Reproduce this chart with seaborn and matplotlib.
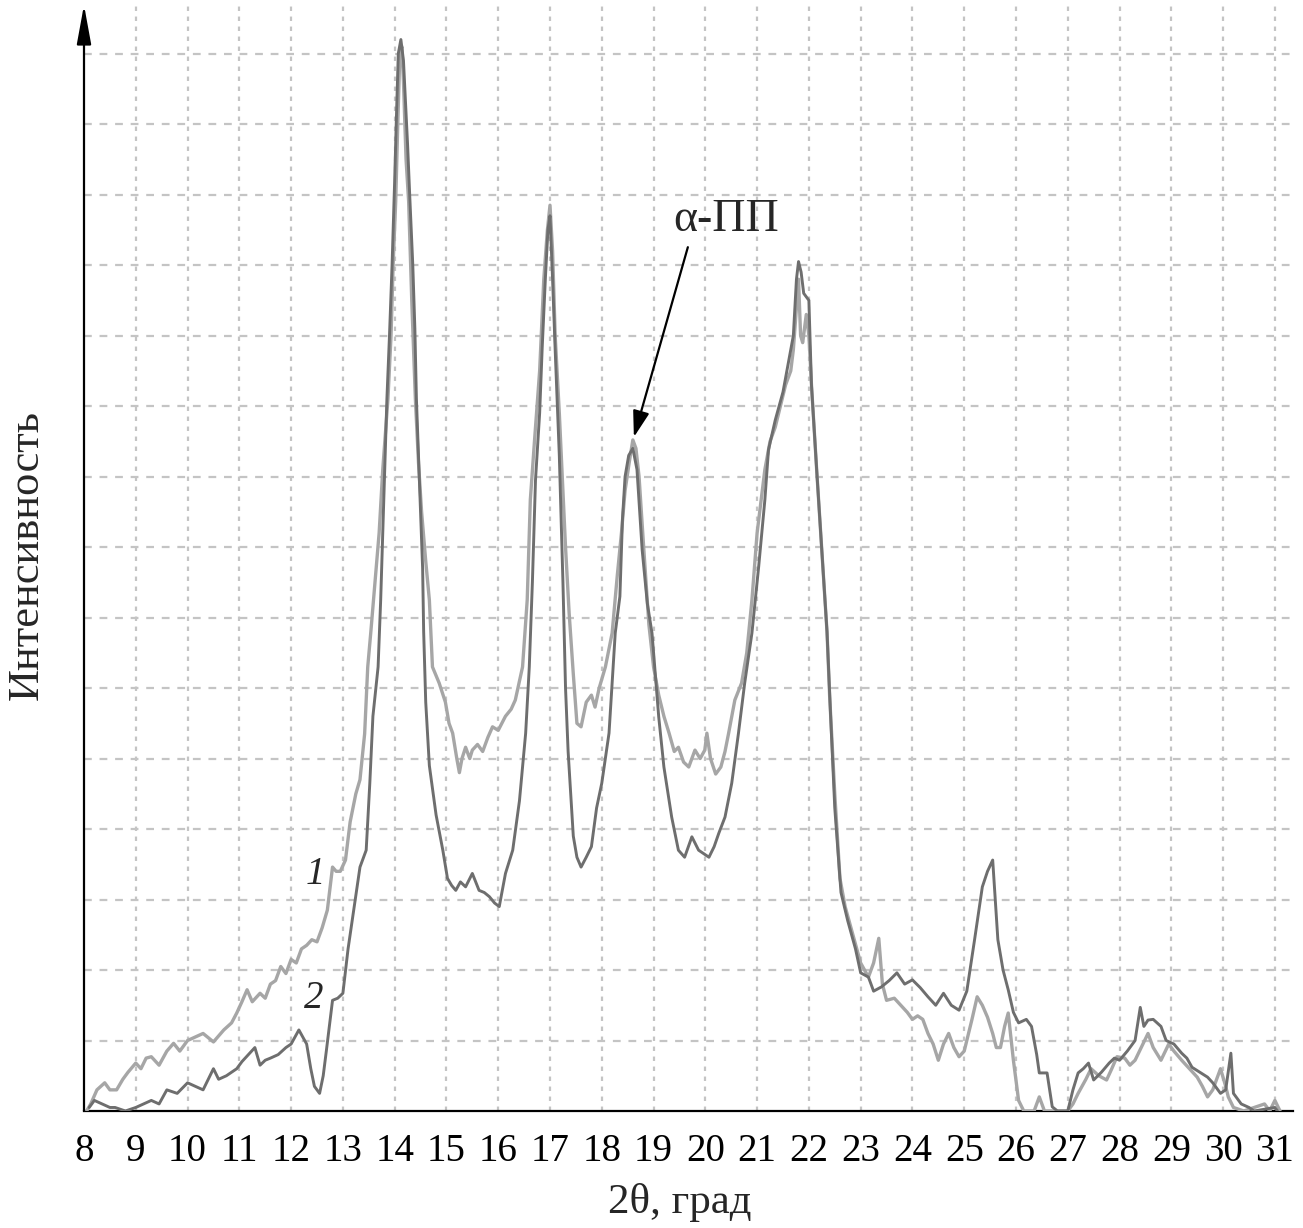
import numpy as np
import pandas as pd
import matplotlib
matplotlib.use("Agg")
import matplotlib.pyplot as plt
import seaborn as sns

# ---- data ----
x1 = [8.05, 8.13, 8.25, 8.4, 8.5, 8.63, 8.75, 8.85, 9.0, 9.1, 9.2, 9.3, 9.45, 9.6, 9.73, 9.85,
      10.0, 10.15, 10.3, 10.5, 10.7, 10.85, 10.95, 11.05, 11.15, 11.25, 11.4, 11.5, 11.6, 11.7,
      11.8, 11.9, 12.0, 12.1, 12.2, 12.3, 12.4, 12.5, 12.6, 12.7, 12.8, 12.87, 12.95, 13.05,
      13.14, 13.25, 13.33, 13.42, 13.48, 13.54, 13.62, 13.7, 13.77, 13.87, 13.93, 13.97, 14.02,
      14.06, 14.1, 14.14, 14.17, 14.22, 14.27, 14.33, 14.4, 14.46, 14.52, 14.6, 14.67, 14.73,
      14.86, 14.98, 15.05, 15.12, 15.2, 15.25, 15.3, 15.37, 15.45, 15.5, 15.6, 15.7, 15.8, 15.89,
      16.0, 16.14, 16.25, 16.33, 16.47, 16.56, 16.62, 16.7, 16.8, 16.88, 16.95, 17.0, 17.05,
      17.1, 17.18, 17.24, 17.3, 17.37, 17.45, 17.52, 17.6, 17.7, 17.8, 17.87, 17.95, 18.07,
      18.2, 18.3, 18.38, 18.45, 18.53, 18.6, 18.66, 18.72, 18.8, 18.91, 19.0, 19.1, 19.2, 19.3,
      19.4, 19.48, 19.58, 19.68, 19.8, 19.9, 19.99, 20.03, 20.1, 20.2, 20.3, 20.38, 20.45,
      20.57, 20.7, 20.8, 20.9, 21.0, 21.15, 21.25, 21.35, 21.45, 21.55, 21.65, 21.7, 21.75,
      21.8, 21.84, 21.88, 21.95, 22.0, 22.05, 22.15, 22.25, 22.35, 22.4, 22.5, 22.6, 22.7,
      22.85, 23.0, 23.15, 23.25, 23.35, 23.42, 23.5, 23.65, 23.8, 23.9, 24.0, 24.1, 24.2, 24.3,
      24.4, 24.5, 24.6, 24.7, 24.8, 24.9, 25.0, 25.05, 25.15, 25.25, 25.35, 25.45, 25.55,
      25.62, 25.7, 25.78, 25.85, 25.95, 26.05, 26.15, 26.35, 26.45, 26.55, 27.0, 27.1, 27.2,
      27.35, 27.45, 27.6, 27.75, 27.85, 27.95, 28.1, 28.2, 28.3, 28.45, 28.55, 28.65, 28.8,
      28.95, 29.05, 29.2, 29.35, 29.5, 29.6, 29.7, 29.8, 29.95, 30.05, 30.1, 30.2, 30.4, 30.8,
      30.9, 31.0, 31.1]
y1 = [0.0, 0.1, 0.3, 0.4, 0.3, 0.3, 0.45, 0.55, 0.68, 0.6, 0.75, 0.77, 0.65, 0.85, 0.96, 0.85,
      1.0, 1.05, 1.1, 0.98, 1.15, 1.25, 1.39, 1.55, 1.72, 1.55, 1.67, 1.6, 1.8, 1.85,
      2.05, 1.95, 2.15, 2.1, 2.3, 2.35, 2.43, 2.4, 2.6, 2.85, 3.46, 3.4, 3.4, 3.56,
      4.1, 4.5, 4.7, 5.35, 6.3, 6.8, 7.5, 8.2, 9.1, 10.1, 11.0, 12.0, 12.9,
      14.0, 15.0, 15.1, 14.6, 13.5, 12.9, 11.5, 10.1, 9.2, 8.5, 7.8, 7.25, 6.3,
      6.07, 5.8, 5.5, 5.36, 5.0, 4.8, 5.0, 5.16, 5.0, 5.12, 5.2, 5.1, 5.3, 5.45,
      5.4, 5.6, 5.7, 5.83, 6.3, 7.25, 8.67, 9.5, 10.5, 11.8, 12.5, 12.85, 12.2,
      11.0, 9.9, 8.95, 8.0, 7.06, 6.2, 5.5, 5.45, 5.8, 5.9, 5.73, 6.0, 6.3,
      6.78, 7.6, 8.2, 8.8, 9.2, 9.52, 9.4, 9.0, 8.1, 6.9, 6.3, 5.9, 5.6, 5.36,
      5.1, 5.16, 4.95, 4.88, 5.12, 5.0, 5.12, 5.36, 5.0, 4.78, 4.88, 5.1, 5.36,
      5.83, 6.07, 6.5, 7.25, 8.2, 9.1, 9.5, 9.7, 10.0, 10.3, 10.5, 10.8, 11.3,
      11.8, 11.0, 10.9, 11.3, 11.0, 10.3, 9.1, 7.95, 6.8, 5.9, 4.5, 3.3, 2.9,
      2.5, 2.1, 1.9, 2.1, 2.45, 1.8, 1.57, 1.6, 1.48, 1.4, 1.3, 1.35, 1.3, 1.1,
      0.95, 0.72, 0.95, 1.1, 0.9, 0.77, 0.85, 1.0, 1.3, 1.62, 1.5, 1.33, 1.1,
      0.9, 0.9, 1.2, 1.39, 0.72, 0.15, 0.0, 0.0, 0.2, 0.0, 0.0, 0.1, 0.25,
      0.45, 0.6, 0.5, 0.44, 0.6, 0.77, 0.75, 0.65, 0.72, 0.95, 1.1, 0.9, 0.72,
      0.95, 0.85, 0.72, 0.6, 0.48, 0.35, 0.2, 0.3, 0.6, 0.35, 0.2, 0.05, 0.0, 0.1,
      0.0, 0.15, 0.0]

x2 = [8.1, 8.2, 8.35, 8.5, 8.6, 8.8, 9.0, 9.15, 9.3, 9.45, 9.6, 9.8, 10.0, 10.15, 10.3, 10.5,
      10.6, 10.75, 10.95, 11.05, 11.2, 11.3, 11.4, 11.5, 11.6, 11.75, 11.9, 12.0, 12.15, 12.3,
      12.38, 12.45, 12.55, 12.62, 12.68, 12.8, 12.9, 13.0, 13.1, 13.2, 13.33, 13.45, 13.52,
      13.58, 13.68, 13.73, 13.77, 13.81, 13.85, 13.9, 13.95, 14.0, 14.03, 14.07, 14.12, 14.17,
      14.21, 14.25, 14.29, 14.35, 14.39, 14.42, 14.48, 14.54, 14.56, 14.6, 14.67, 14.8, 14.93,
      15.02, 15.1, 15.18, 15.27, 15.37, 15.5, 15.63, 15.73, 15.83, 15.93, 16.02, 16.14, 16.28,
      16.41, 16.53, 16.6, 16.66, 16.72, 16.8, 16.85, 16.91, 16.96, 17.0, 17.05, 17.1, 17.18,
      17.25, 17.3, 17.35, 17.45, 17.52, 17.6, 17.7, 17.8, 17.9, 18.0, 18.14, 18.26, 18.35,
      18.4, 18.45, 18.52, 18.6, 18.68, 18.78, 18.88, 18.97, 19.1, 19.2, 19.35, 19.48, 19.6,
      19.74, 19.87, 19.97, 20.07, 20.17, 20.26, 20.38, 20.51, 20.64, 20.76, 20.9, 21.03, 21.15,
      21.22, 21.35, 21.5, 21.6, 21.7, 21.76, 21.8, 21.85, 21.9, 22.0, 22.05, 22.15, 22.25,
      22.35, 22.42, 22.5, 22.62, 22.75, 22.9, 23.0, 23.15, 23.25, 23.4, 23.55, 23.7, 23.85,
      24.0, 24.15, 24.3, 24.45, 24.6, 24.75, 24.9, 25.05, 25.2, 25.35, 25.45, 25.55, 25.65,
      25.75, 25.85, 25.95, 26.05, 26.2, 26.3, 26.4, 26.45, 26.6, 26.7, 26.8, 27.0, 27.1, 27.2,
      27.3, 27.4, 27.5, 27.65, 27.8, 27.9, 28.0, 28.15, 28.3, 28.4, 28.47, 28.55, 28.65, 28.8,
      28.9, 29.05, 29.2, 29.3, 29.4, 29.55, 29.7, 29.8, 29.95, 30.05, 30.15, 30.2, 30.35, 30.5,
      30.6, 31.0, 31.05]
y2 = [0.05, 0.15, 0.1, 0.05, 0.05, 0.0, 0.05, 0.1, 0.15, 0.1, 0.3, 0.25, 0.4, 0.35, 0.3, 0.6,
      0.45, 0.5, 0.6, 0.7, 0.82, 0.9, 0.65, 0.72, 0.75, 0.8, 0.9, 0.95, 1.15, 0.95,
      0.6, 0.35, 0.25, 0.5, 0.85, 1.57, 1.6, 1.67, 2.3, 2.8, 3.46, 3.7, 4.65,
      5.6, 6.3, 7.25, 8.2, 9.1, 10.1, 11.0, 12.0, 13.2, 14.0, 15.0, 15.2, 14.9,
      14.3, 13.7, 13.0, 12.0, 11.1, 10.1, 8.9, 7.7, 6.8, 5.8, 4.9, 4.2, 3.7,
      3.3, 3.2, 3.13, 3.25, 3.18, 3.37, 3.13, 3.1, 3.04, 2.95, 2.9, 3.37, 3.7,
      4.4, 5.36, 6.3, 7.5, 8.95, 9.9, 10.84, 11.8, 12.5, 12.7, 11.8, 10.8, 9.3,
      7.5, 6.0, 5.1, 3.9, 3.6, 3.46, 3.6, 3.75, 4.3, 4.65, 5.36, 6.78, 7.3,
      8.4, 9.0, 9.3, 9.4, 9.1, 7.96, 7.2, 6.78, 5.59, 4.88, 4.17, 3.7, 3.6,
      3.89, 3.7, 3.65, 3.6, 3.75, 3.94, 4.17, 4.65, 5.36, 6.07, 6.78, 7.72, 8.67,
      9.38, 9.8, 10.2, 10.6, 11.0, 11.8, 12.05, 11.9, 11.6, 11.5, 10.3, 9.1, 7.95,
      6.8, 5.6, 4.3, 3.1, 2.7, 2.3, 1.96, 1.9, 1.7, 1.76, 1.85, 1.96, 1.8,
      1.86, 1.75, 1.62, 1.5, 1.67, 1.5, 1.43, 1.7, 2.43, 3.18, 3.4, 3.56, 2.43,
      2.0, 1.72, 1.4, 1.25, 1.3, 1.2, 0.8, 0.54, 0.54, 0.06, 0.0, 0.0, 0.3, 0.54,
      0.6, 0.68, 0.44, 0.55, 0.68, 0.75, 0.72, 0.85, 1.0, 1.47, 1.2, 1.29, 1.3, 1.2,
      1.0, 0.95, 0.82, 0.75, 0.62, 0.55, 0.48, 0.4, 0.25, 0.3, 0.82, 0.25, 0.1, 0.05,
      0.0, 0.05, 0.0]

xticks = list(range(8, 32))
curve_labels = ["1", "2"]

# ---- figure ----
sns.set_style("white")
plt.rcParams['font.family'] = ['Liberation Serif', 'DejaVu Serif']

W, H = 1303, 1228
fig = plt.figure(figsize=(W / 100, H / 100), dpi=100)
ax = fig.add_axes([84 / W, 117 / H, 1209 / W, 1106 / H])

df1 = pd.DataFrame({"x": x1, "y": y1})
df2 = pd.DataFrame({"x": x2, "y": y2})
sns.lineplot(data=df1, x="x", y="y", ax=ax, color="#a6a6a6", lw=2.4, sort=False,
             estimator=None, zorder=3)
sns.lineplot(data=df2, x="x", y="y", ax=ax, color="#6e6e6e", lw=2.1, sort=False,
             estimator=None, zorder=4)

ax.set_xlim(8.075, 31.35)
ax.set_ylim(0, 15.69)

# grid
for xv in range(9, 32):
    ax.axvline(xv, color="#c4c4c4", lw=1.6, ls=(0, (2.0, 2.5)), zorder=1)
for yv in range(1, 16):
    ax.axhline(yv, color="#c4c4c4", lw=1.6, ls=(0, (3.5, 3.5)), zorder=1)

# axes styling
for s in ["top", "right", "left"]:
    ax.spines[s].set_visible(False)
ax.spines["bottom"].set_linewidth(1.6)
ax.spines["bottom"].set_color("black")
ax.set_xticks(xticks)
ax.set_xticklabels([str(t) for t in xticks])
ax.set_yticks([])
ax.tick_params(axis="x", direction="in", length=11, width=1.5, pad=16,
               labelsize=28, colors="black")

# y-axis arrow
ax.annotate("", xy=(0, 1.0), xycoords="axes fraction", xytext=(0, 0),
            textcoords="axes fraction",
            arrowprops=dict(arrowstyle="-|>,head_length=1.2,head_width=0.22",
                            color="black", lw=1.6, mutation_scale=20,
                            shrinkA=0, shrinkB=0), annotation_clip=False)

ax.set_xlabel("2θ, град", fontsize=31)
ax.set_ylabel("Интенсивность", fontsize=32)
ax.xaxis.set_label_coords(0.493, -0.065)
ax.yaxis.set_label_coords(-0.031, 0.503)

# curve numbers
ax.text(12.46, 3.35, curve_labels[0], fontsize=28, style="italic", ha="center", va="center")
ax.text(12.43, 1.6, curve_labels[1], fontsize=28, style="italic", ha="center", va="center")

# alpha-PP annotation
ax.annotate("α-ПП", xy=(18.62, 9.56), xytext=(20.41, 12.64), fontsize=33,
            ha="center", va="center",
            arrowprops=dict(arrowstyle="-|>,head_length=0.8,head_width=0.25",
                            color="black", lw=1.6, mutation_scale=20,
                            shrinkA=2, shrinkB=0,
                            relpos=(0.15, 0.0)))

fig.savefig("out.png", dpi=100)
